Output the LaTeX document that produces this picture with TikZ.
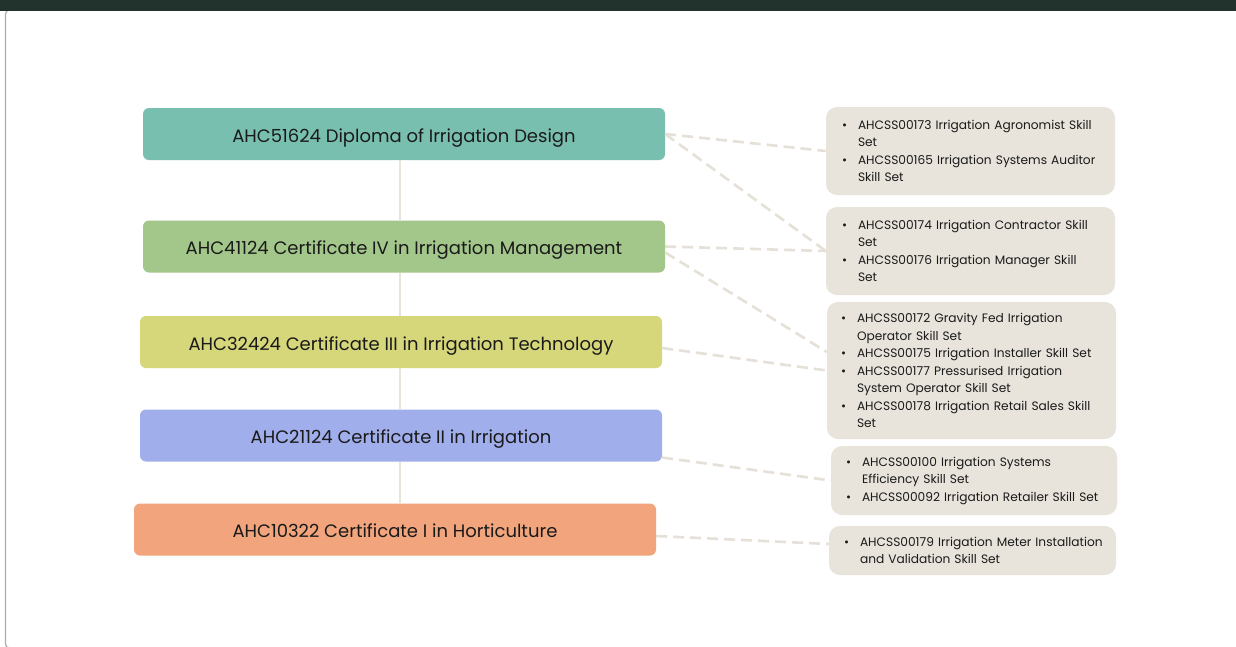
\documentclass[tikz,border=0pt]{standalone}
\usepackage{fontspec}
\setmainfont{Poppins}
\definecolor{topbar}{HTML}{22332E}
\definecolor{framec}{HTML}{A7AEAC}
\definecolor{cA}{HTML}{79BFB0}
\definecolor{cB}{HTML}{A3C68A}
\definecolor{cC}{HTML}{D6D67B}
\definecolor{cD}{HTML}{A0AEEB}
\definecolor{cE}{HTML}{F2A47C}
\definecolor{rfill}{HTML}{E8E4DC}
\definecolor{connc}{HTML}{E6E1D8}
\definecolor{txt}{HTML}{1A1A1A}
\newcommand{\bitem}[1]{\makebox[16pt][l]{\textbullet}\mbox{#1}}
\newcommand{\bcont}[1]{\hspace*{16pt}\mbox{#1}}
\tikzset{
  lbox/.style={rounded corners=6pt, minimum width=522pt, minimum height=52pt, inner sep=0pt,
    text height=16.4pt, text depth=0pt,
    text=txt, font=\fontsize{18}{21}\selectfont},
  rbox/.style={fill=rfill, rounded corners=11pt, inner xsep=16pt, inner ysep=0pt, align=left,
    text=txt, font=\fontsize{12.2}{17.5}\selectfont},
  conn/.style={draw=connc, line width=2.6pt, dash pattern=on 11pt off 6pt},
  trunk/.style={draw=rfill, line width=2pt}
}
\begin{document}
\begin{tikzpicture}[x=1pt,y=-1pt]
\useasboundingbox (0,0) rectangle (1236,646);
\fill[white] (0,0) rectangle (1236,646);
\begin{scope}
\clip (0,0) rectangle (1236,646);
\draw[framec, line width=1.2pt, rounded corners=4pt] (5.5,10) rectangle (1245,648);
\end{scope}
\fill[topbar] (0,0) rectangle (1236,10.5);

% left nodes
\node[lbox, fill=cA] (L1) at (404,134) {AHC51624 Diploma of Irrigation Design};
\node[lbox, fill=cB] (L2) at (404,246.5) {AHC41124 Certificate IV in Irrigation Management};
\node[lbox, fill=cC] (L3) at (401,342) {AHC32424 Certificate III in Irrigation Technology};
\node[lbox, fill=cD] (L4) at (401,435.5) {AHC21124 Certificate II in Irrigation};
\node[lbox, fill=cE] (L5) at (395,529.5) {AHC10322 Certificate I in Horticulture};

% right nodes
\node[rbox, minimum width=289pt, minimum height=88pt, text width=257pt] (R1) at (970.5,151)
 {\bitem{AHCSS00173 Irrigation Agronomist Skill}\\\bcont{Set}\\\bitem{AHCSS00165 Irrigation Systems Auditor}\\\bcont{Skill Set}};
\node[rbox, minimum width=289pt, minimum height=88pt, text width=257pt] (R2) at (970.5,251)
 {\bitem{AHCSS00174 Irrigation Contractor Skill}\\\bcont{Set}\\\bitem{AHCSS00176 Irrigation Manager Skill}\\\bcont{Set}};
\node[rbox, minimum width=289pt, minimum height=137pt, text width=261pt, inner xsep=14pt] (R3) at (971.5,370.5)
 {\bitem{AHCSS00172 Gravity Fed Irrigation}\\\bcont{Operator Skill Set}\\\bitem{AHCSS00175 Irrigation Installer Skill Set}\\\bitem{AHCSS00177 Pressurised Irrigation}\\\bcont{System Operator Skill Set}\\\bitem{AHCSS00178 Irrigation Retail Sales Skill}\\\bcont{Set}};
\node[rbox, minimum width=286pt, minimum height=69pt, text width=256pt, inner xsep=15pt] (R4) at (974,480.5)
 {\bitem{AHCSS00100 Irrigation Systems}\\\bcont{Efficiency Skill Set}\\\bitem{AHCSS00092 Irrigation Retailer Skill Set}};
\node[rbox, minimum width=287pt, minimum height=49pt, text width=257pt, inner xsep=15pt] (R5) at (972.5,550.5)
 {\bitem{AHCSS00179 Irrigation Meter Installation}\\\bcont{and Validation Skill Set}};

% connectors
\draw[conn] (L1.east) -- (R1.west);
\draw[conn] (L1.east) -- (R2.west);
\draw[conn] (L2.east) -- (R2.west);
\draw[conn] ([yshift=-6pt]L2.east) -- ([yshift=18.5pt]R3.west);
\draw[conn] ([yshift=-6pt]L3.east) -- (R3.west);
\draw[conn] ([yshift=-22pt]L4.east) -- (R4.west);
\draw[conn] ([yshift=-6.5pt]L5.east) -- ([yshift=6.5pt]R5.west);

% trunk segments between the left boxes
\draw[trunk] ([xshift=-4pt]L1.south) -- ([xshift=-4pt]L2.north);
\draw[trunk] ([xshift=-4pt]L2.south) -- ([xshift=-1pt]L3.north);
\draw[trunk] ([xshift=-1pt]L3.south) -- ([xshift=-1pt]L4.north);
\draw[trunk] ([xshift=-1pt]L4.south) -- ([xshift=5pt]L5.north);
\end{tikzpicture}
\end{document}
